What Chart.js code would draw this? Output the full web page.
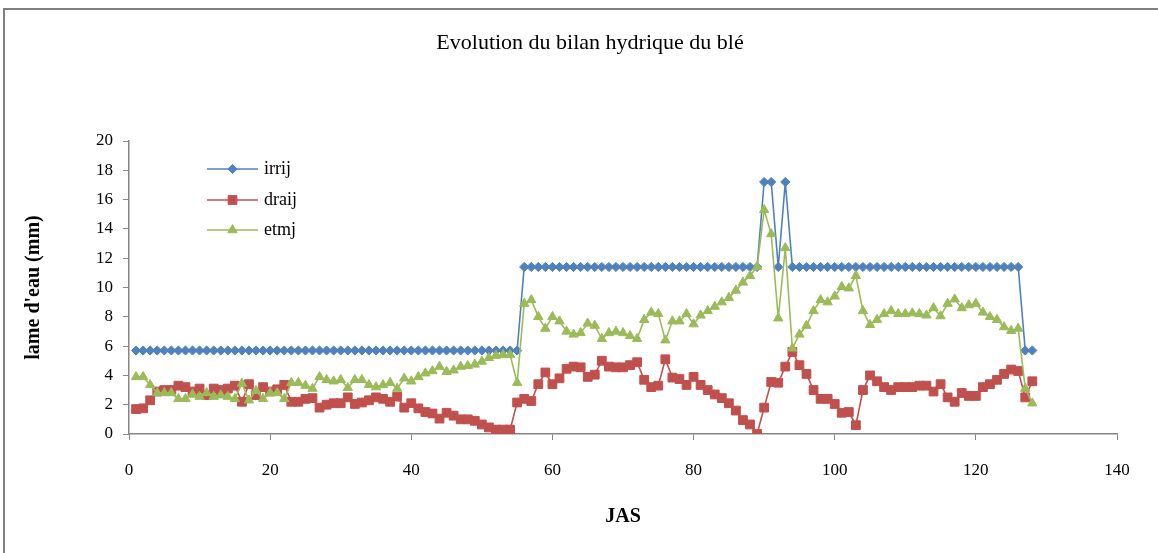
<!DOCTYPE html>
<html>
<head>
<meta charset="utf-8">
<script src="https://cdn.jsdelivr.net/npm/chart.js@4/dist/chart.umd.min.js"></script>
<style>
  html, body { margin: 0; padding: 0; background: #ffffff; }
  #wrap { position: relative; width: 1158px; height: 553px; overflow: hidden; }
  #frame { position: absolute; left: 3px; top: 8px; width: 1300px; height: 700px;
           border-top: 2px solid #808080; border-left: 2px solid #808080; }
  canvas { position: absolute; left: 0; top: 0; }
</style>
</head>
<body>
<div id="wrap">
  <div id="frame"></div>
  <canvas id="c" width="1158" height="553"></canvas>
</div>
<script>
// ---- Data ----
const chartTitle = "Evolution du bilan hydrique du blé";
const xTitle = "JAS";
const yTitle = "lame d'eau (mm)";
const seriesNames = ["irrij", "draij", "etmj"];

// Day index (JAS) 1..128
const days = Array.from({ length: 128 }, (_, i) => i + 1);

const irrij = [
  5.7, 5.7, 5.7, 5.7, 5.7, 5.7, 5.7, 5.7, 5.7, 5.7,
  5.7, 5.7, 5.7, 5.7, 5.7, 5.7, 5.7, 5.7, 5.7, 5.7,
  5.7, 5.7, 5.7, 5.7, 5.7, 5.7, 5.7, 5.7, 5.7, 5.7,
  5.7, 5.7, 5.7, 5.7, 5.7, 5.7, 5.7, 5.7, 5.7, 5.7,
  5.7, 5.7, 5.7, 5.7, 5.7, 5.7, 5.7, 5.7, 5.7, 5.7,
  5.7, 5.7, 5.7, 5.7, 5.7, 11.4, 11.4, 11.4, 11.4, 11.4,
  11.4, 11.4, 11.4, 11.4, 11.4, 11.4, 11.4, 11.4, 11.4, 11.4,
  11.4, 11.4, 11.4, 11.4, 11.4, 11.4, 11.4, 11.4, 11.4, 11.4,
  11.4, 11.4, 11.4, 11.4, 11.4, 11.4, 11.4, 11.4, 11.4, 17.2,
  17.2, 11.4, 17.2, 11.4, 11.4, 11.4, 11.4, 11.4, 11.4, 11.4,
  11.4, 11.4, 11.4, 11.4, 11.4, 11.4, 11.4, 11.4, 11.4, 11.4,
  11.4, 11.4, 11.4, 11.4, 11.4, 11.4, 11.4, 11.4, 11.4, 11.4,
  11.4, 11.4, 11.4, 11.4, 11.4, 11.4, 5.7, 5.7
];

const draij = [
  1.7, 1.75, 2.3, 2.9, 3.0, 3.0, 3.3, 3.2, 2.9, 3.1,
  2.65, 3.1, 3.0, 3.1, 3.3, 2.2, 3.4, 2.65, 3.2, 2.9,
  3.05, 3.35, 2.2, 2.2, 2.4, 2.45, 1.8, 2.0, 2.1, 2.1,
  2.5, 2.05, 2.15, 2.3, 2.5, 2.4, 2.2, 2.55, 1.8, 2.1,
  1.75, 1.5, 1.4, 1.05, 1.45, 1.25, 1.0, 1.0, 0.9, 0.65,
  0.45, 0.3, 0.3, 0.3, 2.15, 2.4, 2.25, 3.4, 4.2, 3.4,
  3.8, 4.45, 4.6, 4.55, 3.9, 4.05, 5.0, 4.6, 4.55, 4.55,
  4.7, 4.9, 3.7, 3.2, 3.3, 5.1, 3.85, 3.75, 3.35, 3.9,
  3.35, 3.0, 2.7, 2.45, 2.1, 1.6, 0.95, 0.65, 0.0, 1.8,
  3.55, 3.5, 4.6, 5.6, 4.7, 4.1, 3.0, 2.4, 2.4, 2.05,
  1.45, 1.5, 0.6, 3.0, 4.0, 3.6, 3.2, 3.0, 3.2, 3.2,
  3.2, 3.3, 3.3, 2.9, 3.4, 2.5, 2.2, 2.8, 2.6, 2.6,
  3.2, 3.4, 3.7, 4.1, 4.4, 4.3, 2.5, 3.6
];

const etmj = [
  3.9, 3.9, 3.35, 2.8, 2.8, 2.8, 2.4, 2.4, 2.7, 2.55,
  2.8, 2.55, 2.65, 2.55, 2.4, 3.45, 2.3, 2.95, 2.4, 2.8,
  2.8, 2.4, 3.5, 3.5, 3.3, 3.1, 3.9, 3.7, 3.6, 3.7,
  3.15, 3.7, 3.7, 3.35, 3.2, 3.35, 3.5, 3.1, 3.8, 3.6,
  3.9, 4.15, 4.3, 4.6, 4.25, 4.35, 4.6, 4.65, 4.75, 4.95,
  5.2, 5.35, 5.4, 5.4, 3.5, 8.9, 9.15, 8.0, 7.2, 8.0,
  7.7, 7.0, 6.8, 6.9, 7.55, 7.4, 6.5, 6.9, 7.0, 6.9,
  6.7, 6.5, 7.8, 8.3, 8.2, 6.4, 7.7, 7.7, 8.2, 7.5,
  8.1, 8.4, 8.7, 9.0, 9.3, 9.8, 10.35, 10.8, 11.4, 15.3,
  13.65, 7.9, 12.7, 5.85, 6.8, 7.4, 8.4, 9.15, 9.0, 9.4,
  10.05, 9.95, 10.8, 8.4, 7.45, 7.8, 8.2, 8.4, 8.2, 8.2,
  8.25, 8.2, 8.1, 8.6, 8.05, 8.9, 9.2, 8.6, 8.8, 8.9,
  8.3, 8.0, 7.8, 7.3, 7.05, 7.2, 3.1, 2.1
];

// ---- Styles ----
const BLUE = '#4F81BD', RED = '#C0504D', GREEN = '#9BBB59';
const AXIS = '#868686';
const SERIF = '"Liberation Serif", "Times New Roman", serif';

// Chart title (centred over the whole figure like the original)
const figureTitle = {
  id: 'figureTitle',
  afterDraw(chart) {
    const ctx = chart.ctx;
    ctx.save();
    ctx.fillStyle = '#000';
    ctx.font = '22px ' + SERIF;
    ctx.textAlign = 'center';
    ctx.textBaseline = 'middle';
    ctx.fillText(chartTitle, 590, 43);
    ctx.restore();
  }
};

// Legend drawn inside the plot area (like the original)
const insideLegend = {
  id: 'insideLegend',
  afterDatasetsDraw(chart) {
    const ctx = chart.ctx;
    const items = chart.data.datasets;
    const x0 = 207, x1 = 258, tx = 264;
    const rows = [169, 200, 230];
    ctx.save();
    items.forEach((ds, i) => {
      const y = rows[i];
      ctx.strokeStyle = ds.borderColor;
      ctx.lineWidth = ds.borderWidth;
      ctx.beginPath(); ctx.moveTo(x0, y); ctx.lineTo(x1, y); ctx.stroke();
      const opts = { pointStyle: ds.pointStyle, radius: ds.pointRadius, rotation: 0, borderWidth: 1 };
      ctx.fillStyle = ds.pointBackgroundColor;
      ctx.strokeStyle = ds.pointBorderColor;
      ctx.lineWidth = 1;
      Chart.helpers.drawPoint(ctx, opts, (x0 + x1) / 2, y);
      ctx.fillStyle = '#000';
      ctx.font = '18px ' + SERIF;
      ctx.textBaseline = 'middle';
      ctx.textAlign = 'left';
      ctx.fillText(ds.label, tx, y);
    });
    ctx.restore();
  }
};

const ds = (label, data, color, style, r, order) => ({
  label, data, order,
  borderColor: color, backgroundColor: color,
  pointBackgroundColor: color, pointBorderColor: color,
  borderWidth: 1.6, pointStyle: style, pointRadius: r, pointBorderWidth: 1,
  tension: 0, fill: false
});

new Chart(document.getElementById('c'), {
  type: 'line',
  data: {
    labels: days,
    datasets: [
      ds(seriesNames[0], irrij, BLUE, 'rectRot', 4.6, 3),
      ds(seriesNames[1], draij, RED, 'rect', 6.2, 2),
      ds(seriesNames[2], etmj, GREEN, 'triangle', 5.4, 1)
    ]
  },
  options: {
    responsive: false,
    animation: false,
    devicePixelRatio: 1,
    layout: { padding: { left: 0, right: 41, top: 141, bottom: 0 } },
    plugins: {
      legend: { display: false },
      tooltip: { enabled: false },
      title: { display: false }
    },
    scales: {
      x: {
        type: 'linear', min: 0, max: 140,
        ticks: { stepSize: 20, color: '#000', padding: 20, font: { family: SERIF, size: 17 }, maxRotation: 0 },
        grid: { drawOnChartArea: false, drawTicks: true, tickLength: 6, color: AXIS },
        border: { color: AXIS, width: 1.5 },
        title: { display: true, text: xTitle, color: '#000', font: { family: SERIF, size: 20, weight: 'bold' }, padding: { top: 0, bottom: 24 } },
        afterFit(s) { s.height = 119; }
      },
      y: {
        min: 0, max: 20,
        ticks: { stepSize: 2, color: '#000', padding: 10, font: { family: SERIF, size: 17 } },
        grid: { drawOnChartArea: false, drawTicks: true, tickLength: 6, color: AXIS },
        border: { color: AXIS, width: 1.5 },
        title: { display: true, text: yTitle, color: '#000', font: { family: SERIF, size: 20, weight: 'bold' }, padding: { top: 22, bottom: 0 } },
        afterFit(s) { s.width = 129; }
      }
    }
  },
  plugins: [insideLegend, figureTitle]
});
</script>
</body>
</html>
